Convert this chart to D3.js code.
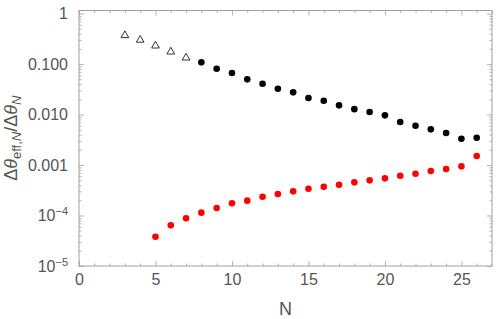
<!DOCTYPE html>
<html>
  <head>
    <meta charset="UTF-8">
    <title>Effective angle ratio vs N</title>
    <script src="https://d3js.org/d3.v7.min.js"></script>
    <style>
      body { margin: 0; background: #fff; }
      svg text { font-family: "Liberation Sans", Arial, sans-serif; fill: #555; }
    </style>
  </head>
  <body>
    <div id="graph"></div>
    <script>

const svgWidth = 498;
const svgHeight = 319;

const margin = {top: 10.5, right: 6, bottom: 53, left: 79};
const chartWidth = svgWidth - margin.left - margin.right;
const chartHeight = svgHeight - margin.top - margin.bottom;

// data
const triangleN = [3, 4, 5, 6, 7];
const triangleValues = [0.37, 0.30, 0.23, 0.175, 0.133];

const blackN = [8, 9, 10, 11, 12, 13, 14, 15, 16, 17, 18, 19, 20, 21, 22, 23, 24, 25, 26];
const blackValues = [0.108, 0.0807, 0.0664, 0.0498, 0.0407, 0.0324, 0.0275, 0.0212, 0.0188,
  0.0152, 0.0128, 0.0112, 0.00964, 0.0071, 0.006, 0.00509, 0.0043, 0.00332, 0.00347];

const redN = [5, 6, 7, 8, 9, 10, 11, 12, 13, 14, 15, 16, 17, 18, 19, 20, 21, 22, 23, 24, 25, 26];
const redValues = [3.8e-5, 6.4e-5, 8.8e-5, 1.14e-4, 1.41e-4, 1.75e-4, 1.97e-4, 2.36e-4, 2.67e-4,
  3.01e-4, 3.39e-4, 3.72e-4, 4.07e-4, 4.54e-4, 4.97e-4, 5.45e-4, 6.14e-4, 6.72e-4, 7.6e-4,
  8.34e-4, 9.42e-4, 1.51e-3];

const xTicks = [0, 5, 10, 15, 20, 25];
const yTicks = [1, 0.1, 0.01, 0.001, 1e-4, 1e-5];
const yTickLabels = ["1", "0.100", "0.010", "0.001", "10|−4", "10|−5"];

const svg = d3.select("#graph")
  .append("svg")
  .attr("width", svgWidth)
  .attr("height", svgHeight);

const chart = svg.append("g")
  .attr("transform", "translate(" + margin.left + "," + margin.top + ")");

const xScale = d3.scaleLinear()
  .domain([0, 27])
  .range([0, chartWidth]);

const yScale = d3.scaleLog()
  .domain([1e-5, 1.15])
  .range([chartHeight, 0]);

const frameColor = "#a0a0a0";

// minor ticks
const xMinor = d3.range(0, 28).filter(d => xTicks.indexOf(d) < 0);
const yMinor = [];
for (let e = -5; e < 0; e++) {
  for (let m = 2; m <= 9; m++) yMinor.push(m * Math.pow(10, e));
}

function styleAxis(g) {
  g.select(".domain").remove();
  g.selectAll("line").attr("stroke", frameColor).attr("stroke-width", 0.8);
}

// bottom
chart.append("g")
  .attr("transform", "translate(0," + chartHeight + ")")
  .call(d3.axisBottom(xScale).tickValues(xTicks).tickSize(-5).tickPadding(8))
  .call(styleAxis)
  .selectAll("text").attr("font-size", 16).attr("fill", "#555");
chart.append("g")
  .attr("transform", "translate(0," + chartHeight + ")")
  .call(d3.axisBottom(xScale).tickValues(xMinor).tickSize(-2.5).tickFormat(""))
  .call(styleAxis);

// top
chart.append("g")
  .call(d3.axisTop(xScale).tickValues(xTicks).tickSize(-5).tickFormat(""))
  .call(styleAxis);
chart.append("g")
  .call(d3.axisTop(xScale).tickValues(xMinor).tickSize(-2.5).tickFormat(""))
  .call(styleAxis);

// left
const leftAxis = chart.append("g")
  .call(d3.axisLeft(yScale).tickValues(yTicks).tickSize(-5).tickPadding(11)
    .tickFormat((d, i) => yTickLabels[i]))
  .call(styleAxis);
leftAxis.selectAll("text")
  .attr("font-size", 16)
  .each(function(d, i) {
    const parts = yTickLabels[i].split("|");
    if (parts.length > 1) {
      const t = d3.select(this).text(parts[0]);
      t.append("tspan").attr("font-size", 11).attr("dy", "-0.55em").text(parts[1]);
    }
  });
chart.append("g")
  .call(d3.axisLeft(yScale).tickValues(yMinor).tickSize(-2.5).tickFormat(""))
  .call(styleAxis);

// right
chart.append("g")
  .attr("transform", "translate(" + chartWidth + ",0)")
  .call(d3.axisRight(yScale).tickValues(yTicks).tickSize(-5).tickFormat(""))
  .call(styleAxis);
chart.append("g")
  .attr("transform", "translate(" + chartWidth + ",0)")
  .call(d3.axisRight(yScale).tickValues(yMinor).tickSize(-2.5).tickFormat(""))
  .call(styleAxis);

// frame
chart.append("rect")
  .attr("width", chartWidth)
  .attr("height", chartHeight)
  .attr("fill", "none")
  .attr("stroke", frameColor)
  .attr("stroke-width", 1);

// points
chart.selectAll(".tri")
  .data(triangleN)
  .enter()
  .append("path")
  .attr("class", "tri")
  .attr("d", d3.symbol().type(d3.symbolTriangle).size(26))
  .attr("transform", (d, i) => "translate(" + xScale(d) + "," + yScale(triangleValues[i]) + ")")
  .attr("fill", "none")
  .attr("stroke", "#000")
  .attr("stroke-width", 0.8);

chart.selectAll(".black")
  .data(blackN)
  .enter()
  .append("circle")
  .attr("class", "black")
  .attr("cx", d => xScale(d))
  .attr("cy", (d, i) => yScale(blackValues[i]))
  .attr("r", 3.3)
  .attr("fill", "#000");

chart.selectAll(".red")
  .data(redN)
  .enter()
  .append("circle")
  .attr("class", "red")
  .attr("cx", d => xScale(d))
  .attr("cy", (d, i) => yScale(redValues[i]))
  .attr("r", 3.3)
  .attr("fill", "#ff0000");

// axis titles
svg.append("text")
  .attr("x", margin.left + chartWidth / 2)
  .attr("y", 315)
  .attr("text-anchor", "middle")
  .attr("font-size", 18)
  .text("N");

const yTitle = svg.append("text")
  .attr("transform", "translate(17," + (margin.top + chartHeight / 2) + ") rotate(-90)")
  .attr("text-anchor", "middle")
  .attr("font-size", 18);
yTitle.append("tspan").text("Δ");
yTitle.append("tspan").attr("font-style", "italic").text("θ");
yTitle.append("tspan").attr("font-size", 13).attr("dy", 4).text("eff,");
yTitle.append("tspan").attr("font-size", 13).attr("font-style", "italic").text("N");
yTitle.append("tspan").attr("dy", -4).text("/Δ");
yTitle.append("tspan").attr("font-style", "italic").text("θ");
yTitle.append("tspan").attr("font-size", 13).attr("font-style", "italic").attr("dy", 4).text("N");

    </script>
  </body>
</html>
